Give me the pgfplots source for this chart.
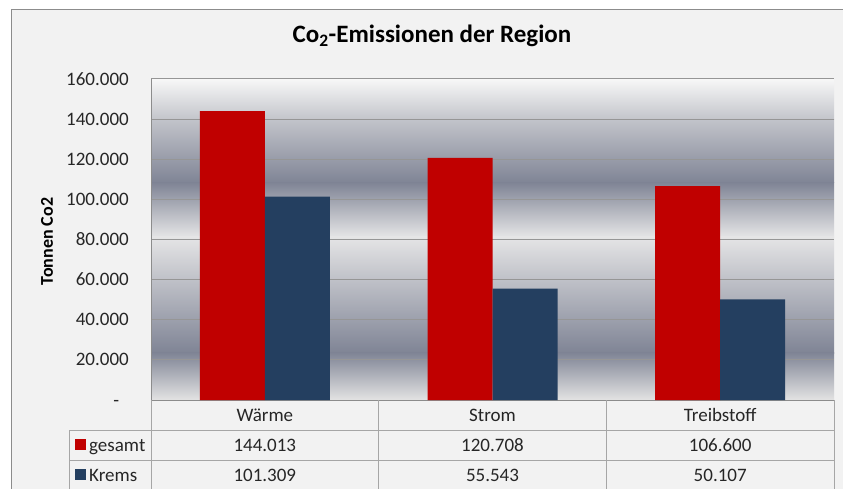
\documentclass[border=0pt]{standalone}
\usepackage{pgfplots}
\pgfplotsset{compat=1.18}
\usepackage{fontspec}
\setmainfont{Carlito}

\definecolor{rotbar}{HTML}{C00000}
\definecolor{blaubar}{HTML}{243F60}
\definecolor{chartbg}{HTML}{F2F2F2}
\definecolor{rahmen}{HTML}{8C8C8C}
\definecolor{gitter}{HTML}{969696}
\definecolor{tabline}{HTML}{A6A6A6}
\definecolor{txt}{HTML}{262626}
% plot area gradient stops, top to bottom
\definecolor{gA}{HTML}{F7F7F7}
\definecolor{gB}{HTML}{C2C4CA}
\definecolor{gC}{HTML}{7F8495}
\definecolor{gD}{HTML}{E5E5E6}
\definecolor{gE}{HTML}{E3E3E3}

\newcommand{\tabfont}{\fontsize{19}{19}\selectfont}

\begin{document}
\begin{tikzpicture}
% chart area
\fill[white] (0pt,0pt) rectangle (843pt,488pt);
\filldraw[fill=chartbg, draw=rahmen, line width=1pt] (11pt,-20pt) rectangle (853pt,478pt);

% plot area background
\shade[top color=gA, bottom color=gB] (151pt,368pt) rectangle (834pt,409pt);
\shade[top color=gB, bottom color=gC] (151pt,305pt) rectangle (834pt,368.5pt);
\shade[top color=gC, bottom color=gD] (151pt,251pt) rectangle (834pt,305.5pt);
\shade[top color=gD, bottom color=gC] (151pt,135pt) rectangle (834pt,251.5pt);
\shade[top color=gC, bottom color=gE] (151pt,88pt) rectangle (834pt,135.5pt);

\begin{axis}[
    at={(151pt,88pt)}, anchor=south west,
    scale only axis,
    width=683pt, height=321pt,
    xmin=-0.5, xmax=2.5,
    ymin=0, ymax=160000,
    ybar, bar width=65pt,
    xtick={0,1,2},
    xticklabels={Wärme,Strom,Treibstoff},
    ytick={0,20000,40000,60000,80000,100000,120000,140000,160000},
    yticklabels={-\phantom{0},20.000,40.000,60.000,80.000,100.000,120.000,140.000,160.000},
    scaled y ticks=false,
    ymajorgrids,
    major grid style={gitter, line width=1pt},
    major tick length=0pt,
    axis x line*=bottom, axis y line*=left,
    axis line style={rahmen, line width=1pt, -},
    yticklabel style={font=\tabfont, text=txt, inner sep=0pt, xshift=-22pt},
    xticklabel style={font=\tabfont, text=txt, anchor=base, yshift=-21pt},
    title={Co\textsubscript{2}-Emissionen der Region},
    title style={at={(axis description cs:0.4114,1.0935)}, anchor=base,
        font=\bfseries\fontsize{25}{25}\selectfont, text=black},
    ylabel={Tonnen Co2},
    every axis y label/.style={at={(axis description cs:-0.1523,0.494)},
        rotate=90, anchor=center, font=\bfseries\fontsize{18}{18}\selectfont},
    clip=false,
]
\addplot[fill=rotbar, draw=none, bar shift=-32.5pt]
    coordinates {(0,144013) (1,120708) (2,106600)};
\addplot[fill=blaubar, draw=none, bar shift=32.5pt]
    coordinates {(0,101309) (1,55543) (2,50107)};
\end{axis}

% data table
\begin{scope}[tabline, line width=1pt]
\draw (151pt,88pt) -- (151pt,-5pt);
\draw (378.67pt,88pt) -- (378.67pt,-5pt);
\draw (606.33pt,88pt) -- (606.33pt,-5pt);
\draw (834pt,88pt) -- (834pt,-5pt);
\draw (69pt,58pt) -- (834pt,58pt);
\draw (69pt,28pt) -- (834pt,28pt);
\draw (69pt,58pt) -- (69pt,-5pt);
\end{scope}

\fill[rotbar] (75pt,38pt) rectangle (86pt,49pt);
\fill[blaubar] (75pt,8pt) rectangle (86pt,19pt);
\node[anchor=base west, inner sep=0pt, font=\tabfont, text=txt] at (89pt,37pt) {gesamt};
\node[anchor=base west, inner sep=0pt, font=\tabfont, text=txt] at (89pt,7pt) {Krems};

\node[anchor=base, inner sep=0pt, font=\tabfont, text=txt] at (264.8pt,37pt) {144.013};
\node[anchor=base, inner sep=0pt, font=\tabfont, text=txt] at (492.5pt,37pt) {120.708};
\node[anchor=base, inner sep=0pt, font=\tabfont, text=txt] at (720.2pt,37pt) {106.600};
\node[anchor=base, inner sep=0pt, font=\tabfont, text=txt] at (264.8pt,7pt) {101.309};
\node[anchor=base, inner sep=0pt, font=\tabfont, text=txt] at (492.5pt,7pt) {55.543};
\node[anchor=base, inner sep=0pt, font=\tabfont, text=txt] at (720.2pt,7pt) {50.107};

\pgfresetboundingbox
\path[use as bounding box] (0pt,0pt) rectangle (843pt,488pt);
\end{tikzpicture}
\end{document}
